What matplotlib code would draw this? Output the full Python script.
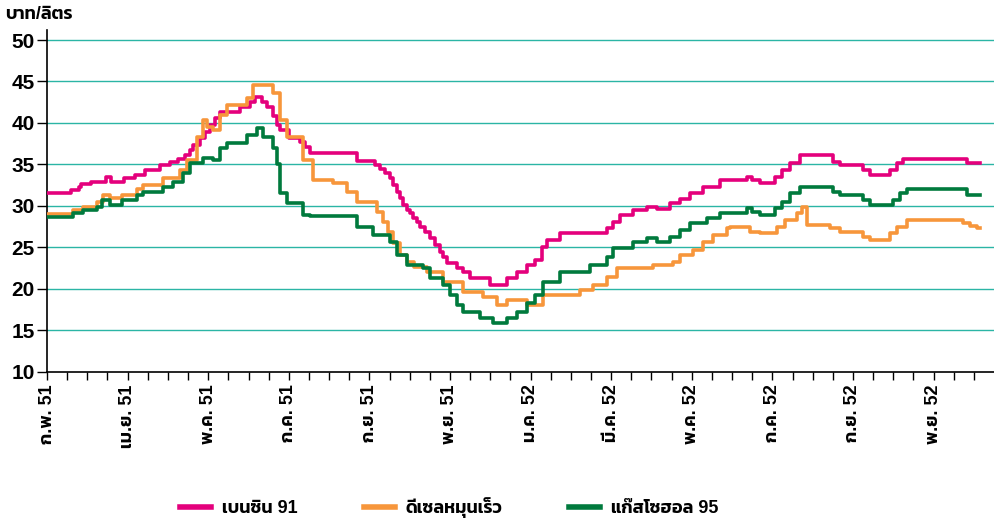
import numpy as np
import matplotlib
matplotlib.use("Agg")
import matplotlib.pyplot as plt

plt.rcParams['font.family'] = ['Liberation Sans', 'Kanit', 'DejaVu Sans']

# x = months since Feb 2008 (step change points), values in baht/litre
benzin_x = [0.00, 0.60, 0.79, 0.84, 1.10, 1.46, 1.59, 1.91, 2.18, 2.43, 2.80, 3.05, 3.25, 3.42,
            3.55, 3.62, 3.80, 3.92, 4.04, 4.17, 4.29, 4.79, 5.04, 5.16, 5.33, 5.46, 5.61, 5.70,
            5.78, 6.00, 6.28, 6.40, 6.53, 7.69, 8.14, 8.26, 8.39, 8.51, 8.59, 8.68, 8.76, 8.83,
            8.93, 9.01, 9.08, 9.18, 9.26, 9.38, 9.50, 9.63, 9.75, 9.83, 9.93, 10.17, 10.32,
            10.50, 10.99, 11.41, 11.66, 11.91, 12.11, 12.28, 12.41, 12.73, 13.90, 14.04, 14.22,
            14.54, 14.89, 15.14, 15.46, 15.71, 15.96, 16.28, 16.70, 17.37, 17.49, 17.69, 18.06,
            18.24, 18.44, 18.69, 19.50, 19.68, 20.25, 20.42, 20.92, 21.09, 21.24, 22.83, 23.15]
benzin_y = [31.6, 31.9, 32.3, 32.6, 32.9, 33.5, 32.9, 33.4, 33.7, 34.3, 34.9, 35.3, 35.7, 36.1,
            36.7, 37.3, 38.2, 38.9, 39.8, 40.6, 41.3, 41.9, 42.5, 43.1, 42.5, 41.9, 40.9, 39.8,
            39.2, 38.2, 37.7, 37.1, 36.4, 35.4, 34.9, 34.4, 34.0, 33.4, 32.5, 31.7, 31.0, 30.1,
            29.5, 29.2, 28.6, 28.1, 27.5, 26.9, 26.1, 25.3, 24.5, 23.9, 23.1, 22.5, 22.0,
            21.3, 20.5, 21.3, 22.0, 22.9, 23.5, 25.1, 25.9, 26.7, 27.3, 28.1, 28.9,
            29.5, 29.9, 29.6, 30.4, 30.8, 31.6, 32.3, 33.1, 33.5, 33.1, 32.8, 33.5,
            34.3, 35.2, 36.1, 35.3, 34.9, 34.3, 33.7, 34.3, 35.2, 35.7, 35.2, 35.2]

diesel_x = [0.00, 0.65, 0.89, 1.24, 1.39, 1.56, 1.86, 2.23, 2.38, 2.88, 3.30, 3.47, 3.72, 3.87,
            3.97, 4.12, 4.29, 4.47, 4.96, 5.11, 5.61, 5.78, 5.96, 6.35, 6.60, 7.10, 7.44, 7.69,
            8.19, 8.34, 8.47, 8.59, 8.76, 8.93, 9.10, 9.43, 9.83, 10.32, 10.82, 11.17, 11.41,
            11.91, 12.31, 13.23, 13.55, 13.90, 14.14, 15.04, 15.53, 15.71, 16.03, 16.28, 16.53,
            16.87, 16.95, 17.44, 17.69, 18.11, 18.31, 18.61, 18.73, 18.86, 19.43, 19.68, 20.25,
            20.42, 20.92, 21.09, 21.34, 22.73, 22.90, 23.08, 23.15]
diesel_y = [29.0, 29.5, 29.9, 30.5, 31.3, 30.9, 31.3, 32.1, 32.5, 33.4, 34.3, 35.5, 38.3, 40.4,
            39.5, 39.2, 41.0, 42.2, 43.0, 44.6, 43.6, 40.4, 38.3, 35.5, 33.1, 32.8, 31.7, 30.5,
            29.3, 28.1, 26.9, 25.5, 24.1, 23.3, 22.7, 22.0, 20.8, 19.6, 19.0, 18.1, 18.7,
            18.1, 19.3, 19.9, 20.5, 21.4, 22.5, 22.9, 23.3, 24.1, 24.7, 25.7, 26.5,
            27.3, 27.5, 26.9, 26.7, 27.5, 28.3, 29.2, 29.9, 27.7, 27.3, 26.9, 26.3,
            25.9, 26.7, 27.5, 28.3, 28.0, 27.6, 27.3, 27.3]

gasohol_x = [0.00, 0.65, 0.89, 1.24, 1.36, 1.56, 1.86, 2.23, 2.38, 2.88, 3.13, 3.37, 3.55, 3.87,
             4.12, 4.29, 4.47, 4.96, 5.21, 5.36, 5.61, 5.70, 5.78, 5.96, 6.35, 6.53, 7.69, 8.09,
             8.51, 8.68, 8.93, 9.33, 9.50, 9.83, 10.00, 10.17, 10.32, 10.74, 11.07, 11.41, 11.66,
             11.91, 12.11, 12.31, 12.73, 13.47, 13.90, 14.04, 14.54, 14.89, 15.14, 15.46, 15.71,
             15.96, 16.38, 16.70, 17.37, 17.49, 17.69, 18.06, 18.24, 18.44, 18.69, 19.50, 19.68,
             20.25, 20.42, 20.99, 21.17, 21.34, 22.83, 23.15]
gasohol_y = [28.7, 29.2, 29.5, 29.9, 30.7, 30.1, 30.7, 31.3, 31.7, 32.3, 32.9, 34.0, 35.2, 35.8,
             35.5, 37.0, 37.6, 38.6, 39.4, 38.3, 37.0, 35.0, 31.6, 30.4, 28.9, 28.8, 27.5, 26.5,
             25.7, 24.1, 22.9, 22.5, 21.3, 20.5, 19.3, 18.1, 17.2, 16.5, 15.9, 16.5, 17.2,
             18.3, 19.3, 20.8, 22.0, 22.9, 23.9, 24.9, 25.7, 26.1, 25.7, 26.3, 27.1,
             28.0, 28.6, 29.2, 29.8, 29.3, 28.9, 29.8, 30.5, 31.6, 32.3, 31.7, 31.3,
             30.7, 30.1, 30.7, 31.6, 32.0, 31.3, 31.3]

tick_pos = list(range(0, 23, 2))
tick_labels = ["ก.พ. 51", "เม.ย. 51", "พ.ค. 51", "ก.ค. 51", "ก.ย. 51", "พ.ย. 51",
               "ม.ค. 52", "มี.ค. 52", "พ.ค. 52", "ก.ค. 52", "ก.ย. 52", "พ.ย. 52"]
series_names = ["เบนซิน 91", "ดีเซลหมุนเร็ว", "แก๊สโซฮอล 95"]
colors = ["#E4007C", "#F7963B", "#007A3D"]

fig = plt.figure(figsize=(9.94, 5.18), dpi=100)
ax = fig.add_axes([0.0473, 0.282, 0.9527, 0.66])

# horizontal guide lines
for v in range(15, 51, 5):
    ax.axhline(v, color="#2BB5A5", lw=1.0, zorder=1)

for xs, ys, c, name in zip([benzin_x, diesel_x, gasohol_x],
                           [benzin_y, diesel_y, gasohol_y], colors, series_names):
    ax.plot(xs, ys, drawstyle="steps-post", color=c, lw=2.6, label=name, zorder=3)

ax.set_xlim(0, 23.5)
ax.set_ylim(10, 51.2)
ax.set_yticks(range(10, 51, 5))
ax.set_xticks(tick_pos)
ax.set_xticklabels(tick_labels, rotation=90, fontsize=13, fontweight="semibold")
ax.set_xticks(np.arange(0, 23.5, 0.5), minor=True)
ax.tick_params(axis="y", labelsize=15, length=7, width=1, pad=2)
for t in ax.get_yticklabels():
    t.set_fontweight("bold")
ax.tick_params(axis="x", which="both", length=6, width=1, pad=3)
ax.spines["top"].set_visible(False)
ax.spines["right"].set_visible(False)
ax.spines["left"].set_linewidth(1.2)
ax.spines["bottom"].set_linewidth(1.2)

fig.text(0.005, 0.972, "บาท/ลิตร", fontsize=13, fontweight="semibold", va="center")

leg = fig.legend(loc="lower center", bbox_to_anchor=(0.452, -0.032), ncol=3, frameon=False,
                 handlelength=1.7, handletextpad=0.6, columnspacing=3.7,
                 prop={"weight": "semibold", "size": 13})
for h in leg.get_lines():
    h.set_linewidth(4)

fig.savefig("out.png", dpi=100)
